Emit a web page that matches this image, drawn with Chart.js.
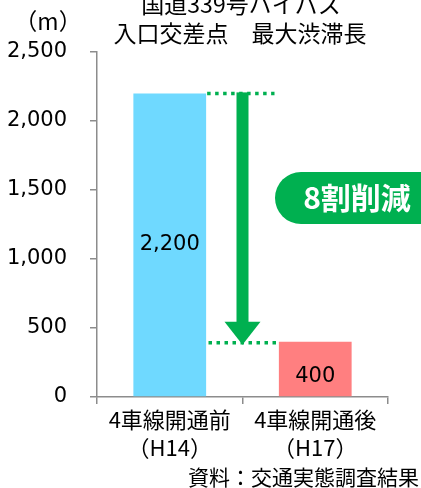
<!DOCTYPE html>
<html>
<head>
<meta charset="utf-8">
<script src="https://cdn.jsdelivr.net/npm/chart.js@4/dist/chart.umd.min.js"></script>
<style>
  html, body { margin: 0; padding: 0; background: #fff; }
  #wrap { width: 421px; height: 488px; }
</style>
</head>
<body>
<div id="wrap"><canvas id="jamChart" width="421" height="488"></canvas></div>
<script>
// ---------- データ ----------
const categories = [["4車線開通前", "（H14）"], ["4車線開通後", "（H17）"]];
const jamLength = [2200, 400];
const barColors = ["#6fd9ff", "#ff7f80"];
const titleLines = ["国道339号バイパス", "入口交差点　最大渋滞長"];
const unitLabel = "（m）";
const badgeText = "8割削減";
const sourceText = "資料：交通実態調査結果";

const green = "#00b050";
const numFont = "21px 'DejaVu Sans', 'Noto Sans CJK JP', sans-serif";
const jpFont = "'Noto Sans CJK JP', sans-serif";

// ---------- 注釈（タイトル・矢印・ラベル） ----------
const overlay = {
  id: "overlay",
  afterDatasetsDraw(chart) {
    const ctx = chart.ctx;
    const x = chart.scales.x, y = chart.scales.y;
    const meta = chart.getDatasetMeta(0);
    ctx.save();

    // タイトル
    ctx.fillStyle = "#000";
    ctx.textAlign = "center";
    ctx.textBaseline = "middle";
    ctx.font = "23px " + jpFont;
    ctx.fillText(titleLines[0], 241, 4);
    ctx.fillText(titleLines[1], 240, 33);

    // 単位
    ctx.font = "23px " + jpFont;
    ctx.fillText(unitLabel, 48, 21);

    // 棒の値
    ctx.font = numFont;
    meta.data.forEach((bar, i) => {
      const mid = (bar.y + bar.base) / 2;
      ctx.fillText(jamLength[i].toLocaleString("en-US"), bar.x, Math.max(mid, bar.y + 35));
    });

    // 点線
    const xm = x.getPixelForValue(0.5);
    const yTop = y.getPixelForValue(jamLength[0]);
    const yBot = y.getPixelForValue(jamLength[1]);
    const b0 = meta.data[0], b1 = meta.data[1];
    ctx.strokeStyle = green;
    ctx.lineWidth = 3.5;
    ctx.setLineDash([3.5, 4.5]);
    ctx.beginPath();
    ctx.moveTo(b0.x + b0.width / 2 + 1, yTop);
    ctx.lineTo(xm + 32, yTop);
    ctx.moveTo(xm - 34, yBot + 1);
    ctx.lineTo(b1.x - b1.width / 2 - 1, yBot + 1);
    ctx.stroke();
    ctx.setLineDash([]);

    // 矢印
    ctx.fillStyle = green;
    const headH = 23;
    const tipY = yBot + 3;
    ctx.fillRect(xm - 6, yTop - 1, 12, tipY - headH - yTop + 2);
    ctx.beginPath();
    ctx.moveTo(xm - 18, tipY - headH);
    ctx.lineTo(xm + 18, tipY - headH);
    ctx.lineTo(xm, tipY);
    ctx.closePath();
    ctx.fill();

    // 8割削減
    ctx.beginPath();
    ctx.roundRect(275, 172, 160, 52, [26, 0, 0, 26]);
    ctx.fill();
    ctx.fillStyle = "#fff";
    ctx.font = "bold 30px " + jpFont;
    ctx.fillText(badgeText, 357, 198);

    // 資料
    ctx.fillStyle = "#000";
    ctx.textAlign = "right";
    ctx.font = "21px " + jpFont;
    ctx.fillText(sourceText, 419, 477);

    ctx.restore();
  }
};

new Chart(document.getElementById("jamChart"), {
  type: "bar",
  data: {
    labels: categories,
    datasets: [{
      data: jamLength,
      backgroundColor: barColors,
      borderWidth: 0,
      categoryPercentage: 1,
      barPercentage: 0.5
    }]
  },
  options: {
    responsive: false,
    animation: false,
    layout: { padding: { top: 52, right: 33, left: 0, bottom: 0 } },
    plugins: { legend: { display: false }, tooltip: { enabled: false } },
    scales: {
      x: {
        grid: { drawOnChartArea: false, tickLength: 7, color: "#8c8c8c", lineWidth: 1.5 },
        border: { color: "#8c8c8c", width: 1.5 },
        ticks: { color: "#000", font: { family: jpFont, size: 22, lineHeight: 1.25 }, padding: 2, maxRotation: 0 },
        afterFit(s) { s.height = 91; }
      },
      y: {
        min: 0,
        max: 2500,
        grid: { drawOnChartArea: false, tickLength: 7, color: "#8c8c8c", lineWidth: 1.5 },
        border: { color: "#8c8c8c", width: 1.5 },
        ticks: {
          stepSize: 500,
          color: "#000",
          padding: 23,
          font: { family: "'DejaVu Sans', 'Noto Sans CJK JP', sans-serif", size: 21 },
          callback: v => v.toLocaleString("en-US")
        },
        afterFit(s) { s.width = 97; }
      }
    }
  },
  plugins: [overlay]
});
</script>
</body>
</html>
